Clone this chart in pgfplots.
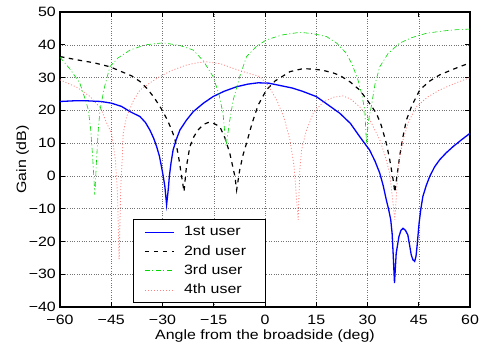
\documentclass[border=0pt]{standalone}
\usepackage{fontspec}
\setmainfont{Liberation Sans}[FakeStretch=1.18]
\usepackage{pgfplots}
\pgfplotsset{compat=1.18}
\definecolor{mblue}{rgb}{0,0,1}
\definecolor{mgreen}{rgb}{0,0.85,0}
\definecolor{mpink}{rgb}{1,0.5,0.5}
\begin{document}
\fontsize{13.5}{15}\selectfont
\begin{tikzpicture}
\begin{axis}[
  scale only axis, width=410pt, height=295pt,
  xmin=-60, xmax=60, ymin=-40, ymax=50,
  xtick={-60,-45,-30,-15,0,15,30,45,60},
  ytick={-40,-30,-20,-10,0,10,20,30,40,50},
  xticklabels={−60,−45,−30,−15,0,15,30,45,60},
  yticklabels={−40,−30,−20,−10,0,10,20,30,40,50},
  tick align=inside, major tick length=5pt,
  tick style={black, line width=0.7pt},
  grid=major, grid style={dotted, black!55, line width=0.5pt},
  axis line style={line width=1.1pt},
  xticklabel style={inner sep=0pt, yshift=-8pt},
  yticklabel style={inner sep=0pt, xshift=-4pt},
  xlabel={Angle from the broadside (deg)},
  ylabel={Gain (dB)},
  xlabel style={at={(axis description cs:0.5,-0.076)}, anchor=north, inner sep=0pt},
  ylabel style={at={(axis description cs:-0.0756,0.5)}, anchor=south, inner sep=0pt},
  legend style={at={(axis description cs:0.178,0.298)}, anchor=north west,
    draw=black, line width=1.1pt, inner xsep=11pt, inner ysep=7pt,
    row sep=7.5pt, nodes={inner sep=0pt},
    /tikz/every odd column/.append style={column sep=10pt}},
  legend cell align=left,
  legend image code/.code={\draw[line width=0.6pt,#1] plot coordinates {(0pt,0pt) (14.5pt,0pt) (29pt,0pt)};},
]
\addplot[draw=mblue, line width=1.3pt] coordinates {
(-60,22.7) (-56,22.9) (-52,22.9) (-48,22.7) (-45,22.2) (-42,21.2) (-39.5,19.6)
(-36.6,18.1) (-35,16.3) (-33.7,14) (-32.6,11.5) (-31.7,8.9) (-30.9,6) (-30.3,2.8)
(-29.8,0) (-29.3,-3.3) (-28.8,-8.8) (-28.3,-4) (-28,-0.2) (-27.5,4) (-26.9,7.9)
(-26,11) (-24.9,14) (-23,17) (-21,19.6) (-18,22.2) (-15.2,24.2) (-12,25.8)
(-8.3,27.2) (-5,28) (-2,28.4) (1,28.3) (4.3,27.6) (8,26.8) (11,25.8) (15,24.2)
(18,22) (21.9,19.1) (25,16) (27.7,12) (30.6,7.9) (32.2,4.5) (33.6,0.8)
(34.6,-3) (35.5,-7.3) (36.2,-10.3) (36.8,-13.4) (37.2,-17.5) (37.5,-23.6)
(37.9,-32.7) (38.4,-23.6) (39.2,-18.5) (39.8,-16.6) (40.4,-16) (41.1,-16.6)
(41.8,-18) (42.3,-21) (42.8,-24.1) (43.3,-25.6) (43.8,-26.1) (44.2,-24.5)
(44.5,-21.5) (45.1,-14.4) (45.6,-10.2) (46.2,-6.3) (47.2,-2.9) (48.2,-0.2)
(49.6,2.7) (51.1,4.9) (53,7) (55,8.9) (57.5,11) (60,13)
};
\addlegendentry{\makebox[70pt][l]{1st user}}
\addplot[draw=black, line width=1.2pt, dash pattern=on 4.5pt off 4.5pt] coordinates {
(-60,36.4) (-55,35.4) (-50,34.5) (-45.4,33.3) (-42,31.8) (-39,30.5) (-36.6,28.8)
(-34.6,26.7) (-32.5,24) (-30.3,20.4) (-28.7,17.3) (-27.5,14.5) (-26.6,12)
(-25.9,9.2) (-25.1,4.6) (-24.4,-0.2) (-23.7,-4.8) (-23,2.8) (-22,8.9) (-20.8,12)
(-19.6,14) (-18,15.7) (-16.6,16.3) (-15,16) (-13.2,15) (-11.7,11.5) (-10.3,6.9)
(-8.8,-0.2) (-8.3,-4.3) (-7.4,1.8) (-6.4,6.5) (-5.4,10) (-3.8,16) (-2,21.6)
(0.4,26.2) (3,29) (7.3,31.8) (11,32.7) (14,32.6) (17,32.2) (20,31.4) (22,30.6)
(25,28.6) (27.7,26.2) (30,23) (32.6,19.1) (34,15.5) (35.5,10) (36.5,5)
(37.5,-1.2) (38,-5) (38.5,-1) (39.4,5.9) (40.3,11.5) (41.4,17.1) (43,21.5)
(45.3,26.2) (48,28.8) (51.1,30.8) (55,32.5) (60,34.5)
};
\addlegendentry{\makebox[70pt][l]{2nd user}}
\addplot[draw=mgreen, line width=0.6pt, dash pattern=on 5pt off 2.5pt on 1pt off 2.5pt] coordinates {
(-60,36.2) (-57,32.5) (-54.2,28.3) (-52.5,23) (-51.7,20.1) (-51,14) (-50.4,5)
(-49.8,-5.8) (-49.3,5) (-48.8,14) (-48.3,20.1) (-47,27) (-45.4,33.3) (-43,36)
(-39.5,38.4) (-35,40) (-29.8,40.6) (-25,39.8) (-21,38.4) (-18,35) (-15.2,30.3)
(-13.5,25) (-12.3,19.1) (-11.4,9.2) (-10.3,17) (-9.3,23.2) (-7.4,30.3)
(-5.4,36.4) (-2.5,39.5) (0.4,41.5) (5,43) (10.2,43.8) (14,43.4) (18,42.5)
(21,40.5) (23.8,37.4) (25.5,34) (27.2,29.3) (28.3,25) (29.2,20.1) (29.7,10)
(30.3,17) (31.1,21.1) (32.2,28) (33.6,33.3) (36,37.3) (39.4,40.5) (43,42.2)
(47.2,43.5) (52,44.2) (56,44.6) (60,44.8)
};
\addlegendentry{\makebox[70pt][l]{3rd user}}
\addplot[draw=mpink, line width=0.8pt, dash pattern=on 1pt off 2pt] coordinates {
(-60,29.3) (-55,27) (-51.2,24.2) (-48,20.5) (-46.5,16.5) (-44.9,13) (-43.8,5)
(-43.2,-5) (-42.7,-25.4) (-42.2,-3) (-41.8,5) (-41.5,13) (-40.5,18.1)
(-38.5,23) (-36.6,26.2) (-33.5,28.5) (-30.8,30.3) (-27,32.3) (-23,33.8)
(-20,34.5) (-17.1,34.8) (-13,34.2) (-9.3,32.8) (-5.5,31.5) (-1.5,30.3)
(1,27.5) (3.4,23.2) (5.5,18) (7.3,11) (8.5,3) (9.7,-13.4) (10.2,2) (10.7,7.9)
(12,13.5) (14.1,19.1) (17,22.5) (20,24) (22.8,24.4) (25,23.5) (27.7,21.1)
(30.5,17.5) (33.6,11) (35.2,6) (36.5,0.8) (38,-13.4) (39,3) (40.4,11)
(42,16.5) (44.3,21.1) (47.5,24) (51.1,26.2) (55.5,28.2) (60,30)
};
\addlegendentry{\makebox[70pt][l]{4th user}}
\end{axis}
\pgfresetboundingbox
\path ([shift={(-60pt,-43pt)}]current axis.south west) rectangle ([shift={(12pt,12pt)}]current axis.north east);
\end{tikzpicture}
\end{document}
